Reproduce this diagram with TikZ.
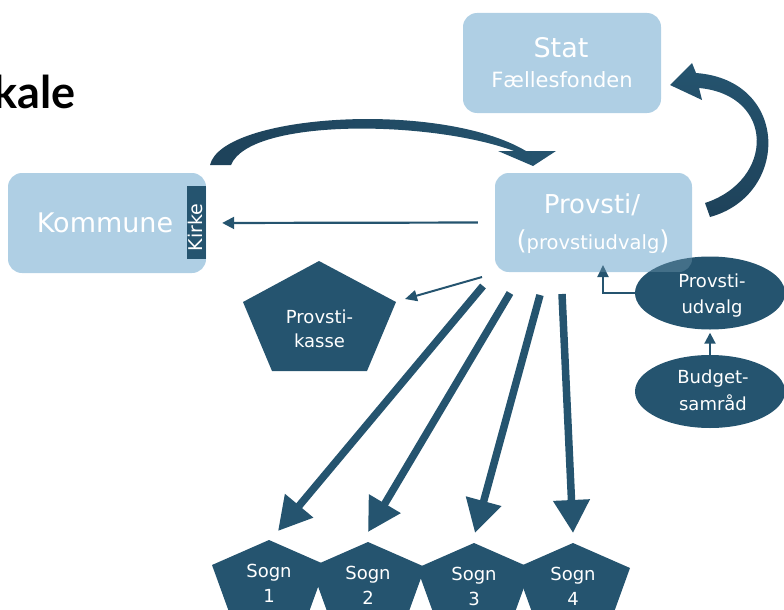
\documentclass[tikz,border=0pt]{standalone}
\usepackage{fontspec}
\setmainfont{DejaVu Sans}
\newfontfamily\titlefont{Lato}
\usetikzlibrary{arrows.meta,shapes.geometric}
\definecolor{deep}{RGB}{37,84,111}
\definecolor{deeper}{RGB}{30,66,90}
\definecolor{pale}{RGB}{175,207,228}
\newcommand\txtsize[1]{\fontsize{#1}{#1}\selectfont}
\begin{document}
\begin{tikzpicture}[x=1pt,y=-1pt,
  box/.style={fill=pale, rounded corners=14pt, inner sep=0pt, minimum width=198pt, minimum height=100pt},
  wtxt/.style={text=white, inner sep=0pt, anchor=base},
  oval/.style={ellipse, fill=deep, inner sep=0pt, minimum width=150pt, minimum height=73pt},
  bigarrow/.style={draw=deep, line width=7.5pt, -{Triangle[length=33pt,width=35pt]}},
  thinarrow/.style={draw=deep, line width=2.2pt, -{Triangle[length=12pt,width=12pt]}},
]
\useasboundingbox (0,0) rectangle (784,610);
\clip (0,0) rectangle (784,610);

% heading fragment at the left edge
\node[inner sep=0pt, anchor=base east, font=\titlefont\bfseries\txtsize{45}] (title) at (76,108) {kale};

% Stat / Fællesfonden
\node[box] (stat) at (562,63) {};
\node[wtxt, font=\txtsize{27}] (statname) at (561,57) {Stat};
\node[wtxt, font=\txtsize{21}] (fonden) at (562,88) {Fællesfonden};

% Kommune with the Kirke strip
\node[box] (kommune) at (107,223) {};
\node[wtxt, font=\txtsize{27}] (kommunename) at (105,232) {Kommune};
\node[fill=deep, inner sep=0pt, minimum width=19pt, minimum height=73pt] (kirke) at (196.5,222.5) {};
\node[wtxt, rotate=90, font=\txtsize{19}] (kirkename) at (202,227.5) {Kirke};

% Provsti box
\node[box, minimum width=197pt, minimum height=99pt] (provsti) at (593.5,222.5) {};

% committees
\node[oval] (udvalg) at (710,293) {};
\node[oval] (budget) at (710,391.5) {};

% Provstiudvalg -> Provsti
\coordinate (elbowtip) at (603,265);
\draw[draw=deep, line width=2pt, -{Triangle[length=12pt,width=11pt]}] (udvalg.west) -| (elbowtip);
% Budgetsamråd -> Provstiudvalg
\draw[draw=deep, line width=2pt, -{Triangle[length=11pt,width=11pt]}, shorten >=3pt] (budget.north) -- (udvalg.south);

% light tint where the committee shapes run under the Provsti box
\begin{scope}
  \clip[rounded corners=14pt] (provsti.south west) rectangle (provsti.north east);
  \fill[pale, opacity=0.22] (provsti.south west) rectangle (provsti.north east);
\end{scope}

\node[wtxt, font=\txtsize{26}] (provstiname) at (592,213) {Provsti/};
\node[wtxt, font=\txtsize{19.5}] (provstisub) at (593,249) {{\txtsize{26}(}provstiudvalg{\txtsize{26})}};

\node[wtxt, font=\txtsize{18}] (udvalgA) at (712,287) {Provsti-};
\node[wtxt, font=\txtsize{18}] (udvalgB) at (712,313) {udvalg};
\node[wtxt, font=\txtsize{18}] (budgetA) at (713,383) {Budget-};
\node[wtxt, font=\txtsize{18}] (budgetB) at (713,410) {samråd};

% curved arrow Kommune -> Provsti
\shade[left color=deeper, right color=deep]
  (210,165) .. controls (222,114) and (440,100) .. (526,151)
  -- (556,151) -- (533,166) -- (498,151) -- (514,151)
  .. controls (430,120) and (250,118) .. (231,165) -- cycle;

% curved arrow Provsti -> Stat
\shade[top color=deep, bottom color=deeper]
  (705,203) .. controls (775,180) and (775,95) .. (699,88)
  -- (702,100) -- (670,85) -- (692,63) -- (696,73)
  .. controls (790,80) and (790,195) .. (710,217) -- cycle;

% Provsti -> Kommune
\draw[thinarrow] (provsti.west) -- (kommune.east)
  [shorten <=17pt, shorten >=16pt];

% Provstikasse
\fill[deep] (319,261) -- (396,302) -- (367,371) -- (272,371) -- (243,302) -- cycle;
\node[wtxt, font=\txtsize{18}] (kasseA) at (319.5,323) {Provsti-};
\node[wtxt, font=\txtsize{18}] (kasseB) at (319.5,347) {kasse};
\coordinate (kassefrom) at (482,277);
\coordinate (kasseto) at (405,299);
\draw[draw=deep, line width=2pt, -{Triangle[length=12pt,width=11pt]}] (kassefrom) -- (kasseto);

% the four parishes
\foreach \n/\c/\t in {1/269/540, 2/368/542, 3/474/543, 4/573/543} {
  \fill[deep] (\c,\t) -- ++(57,25) -- ++(-21,58) -- ++(-72,0) -- ++(-21,-58) -- cycle;
  \node[wtxt, font=\txtsize{18}] (sogn\n) at (\c,\t+37) {Sogn};
  \node[wtxt, font=\txtsize{18}] (sognnr\n) at (\c,\t+62) {\n};
}

% Provsti -> parishes
\coordinate (from1) at (483,286); \coordinate (to1) at (278,531);
\coordinate (from2) at (510,293); \coordinate (to2) at (368,532);
\coordinate (from3) at (540,295); \coordinate (to3) at (475,533);
\coordinate (from4) at (562,294); \coordinate (to4) at (573,533);
\foreach \i in {1,...,4} { \draw[bigarrow] (from\i) -- (to\i); }
\end{tikzpicture}
\end{document}
